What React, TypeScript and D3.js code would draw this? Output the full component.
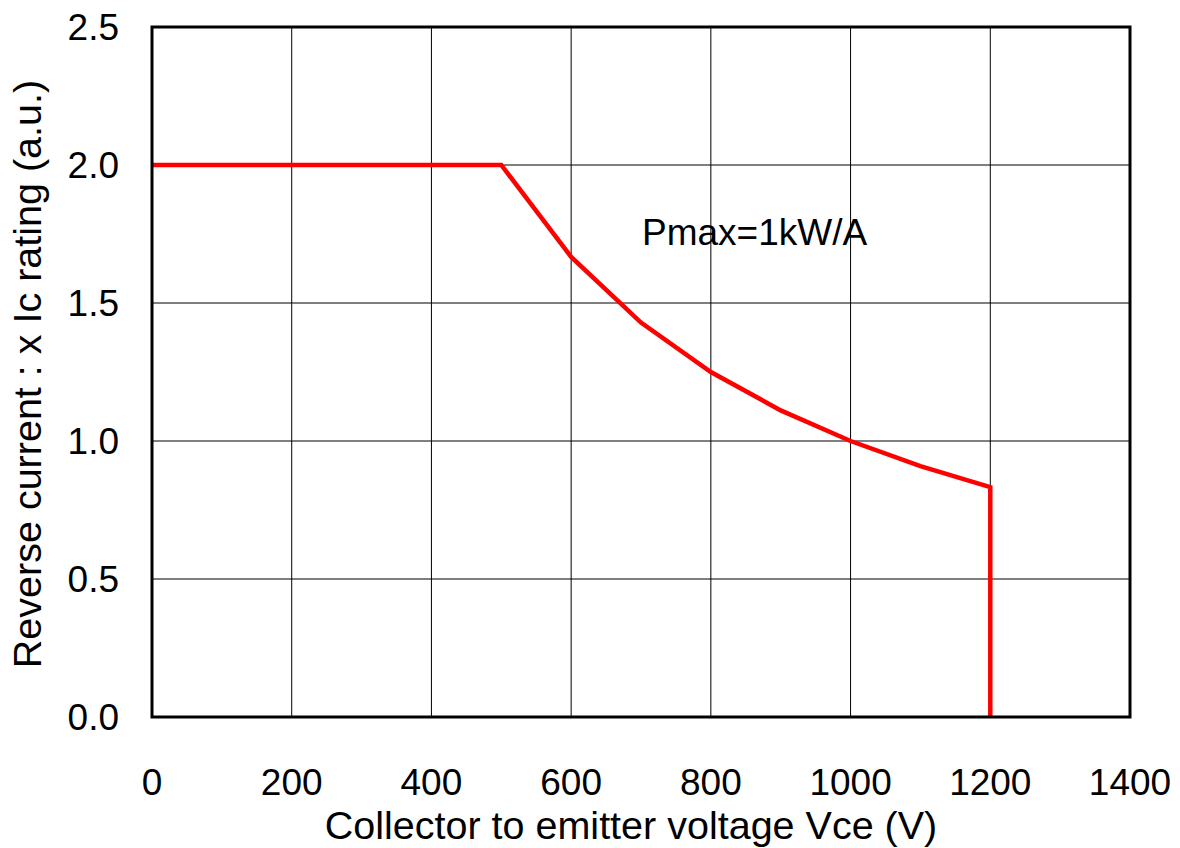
import * as d3 from "d3";

const voltage = [0, 500, 600, 700, 800, 900, 1000, 1100, 1200, 1200];
const current = [2.0, 2.0, 1.667, 1.429, 1.25, 1.111, 1.0, 0.909, 0.833, 0];
const xTicks = [0, 200, 400, 600, 800, 1000, 1200, 1400];
const yTicks = [0, 0.5, 1.0, 1.5, 2.0, 2.5];
const note = "Pmax=1kW/A";
const xTitle = "Collector to emitter voltage Vce (V)";
const yTitle = "Reverse current : x Ic rating (a.u.)";

const W = 1180;
const H = 848;
const m = { left: 152, right: 1130, top: 27, bottom: 717 };
const font = "'Liberation Sans', Arial, sans-serif";

export default function App() {
  const x = d3.scaleLinear().domain([0, 1400]).range([m.left, m.right]);
  const y = d3.scaleLinear().domain([0, 2.5]).range([m.bottom, m.top]);

  const pts = voltage.map((v, i) => [v, current[i]] as [number, number]);
  const line = d3
    .line<[number, number]>()
    .x((d) => x(d[0]))
    .y((d) => y(d[1]));

  return (
    <svg
      width={W}
      height={H}
      viewBox={`0 0 ${W} ${H}`}
      style={{ position: "absolute", left: 0, top: 0, background: "#fff" }}
      fontFamily={font}
    >
      {/* grid */}
      {xTicks.slice(1, -1).map((t) => (
        <line
          key={`gx${t}`}
          x1={x(t)}
          x2={x(t)}
          y1={m.top}
          y2={m.bottom}
          stroke="#000"
          strokeWidth={1}
        />
      ))}
      {yTicks.slice(1, -1).map((t) => (
        <line
          key={`gy${t}`}
          x1={m.left}
          x2={m.right}
          y1={y(t)}
          y2={y(t)}
          stroke="#000"
          strokeWidth={1}
        />
      ))}
      {/* data */}
      <path
        d={line(pts) ?? ""}
        fill="none"
        stroke="#ff0000"
        strokeWidth={4.5}
        strokeLinejoin="miter"
      />
      {/* frame */}
      <rect
        x={m.left}
        y={m.top}
        width={m.right - m.left}
        height={m.bottom - m.top}
        fill="none"
        stroke="#000"
        strokeWidth={3}
      />
      {/* tick labels */}
      {xTicks.map((t) => (
        <text
          key={`tx${t}`}
          x={x(t)}
          y={795}
          textAnchor="middle"
          fontSize={37}
          fill="#000"
        >
          {t}
        </text>
      ))}
      {yTicks.map((t) => (
        <text
          key={`ty${t}`}
          x={119}
          y={y(t)}
          dy="0.36em"
          textAnchor="end"
          fontSize={37}
          fill="#000"
        >
          {t.toFixed(1)}
        </text>
      ))}
      <text x={631} y={839} textAnchor="middle" fontSize={39.5} fill="#000">
        {xTitle}
      </text>
      <text
        transform={`translate(41,${(m.top + m.bottom) / 2 + 2}) rotate(-90)`}
        textAnchor="middle"
        fontSize={39.5}
        fill="#000"
      >
        {yTitle}
      </text>
      <text x={642} y={245} fontSize={37} fill="#000">
        {note}
      </text>
    </svg>
  );
}
